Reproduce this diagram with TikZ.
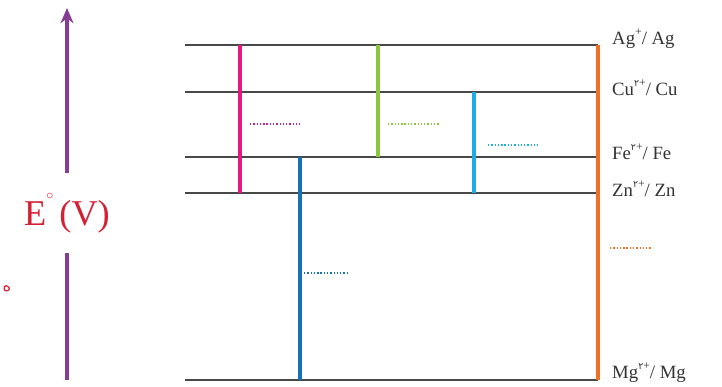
\documentclass[tikz,border=0pt]{standalone}
\usepackage{fontspec}
\setmainfont{Liberation Serif}
\newfontfamily\pdigit{DejaVu Sans}
\newfontfamily\arabicfont[Script=Arabic]{DejaVu Sans}
\TeXXeTstate=1
\usetikzlibrary{arrows.meta, positioning}
\definecolor{LevelGray}{RGB}{72, 72, 72}
\definecolor{PinkLine}{RGB}{228, 24, 128}
\definecolor{GreenLine}{RGB}{140, 198, 63}
\definecolor{CyanLine}{RGB}{30, 172, 228}
\definecolor{BlueLine}{RGB}{22, 112, 186}
\definecolor{OrangeLine}{RGB}{240, 112, 40}
\definecolor{AxisPurple}{RGB}{132, 60, 148}
\definecolor{LabelRed}{RGB}{212, 32, 52}
\newcommand{\supsize}{\fontsize{10pt}{10pt}\selectfont}
\newcommand{\two}{\raisebox{1.05ex}{\supsize{\pdigit\fontsize{8pt}{8pt}\selectfont ۲}+}}
\newcommand{\one}{\raisebox{1.05ex}{\supsize +}}
\tikzset{
  level/.style={line width=2.4pt, color=LevelGray},
  cell/.style={line width=4pt},
  blank/.style={line width=1.6pt, dash pattern=on 1.2pt off 1.6pt},
  couple/.style={anchor=west, inner sep=0pt, font=\fontsize{16pt}{18pt}\selectfont, text=black!80},
}

\begin{document}
\begin{tikzpicture}[x=0.03cm, y=-0.03cm]
  \useasboundingbox (0,0) rectangle (722,386);
  % energy levels
  \coordinate (agL) at (185,45);  \coordinate (agR) at (598,45);
  \coordinate (cuL) at (185,92);  \coordinate (cuR) at (598,92);
  \coordinate (feL) at (185,157); \coordinate (feR) at (598,157);
  \coordinate (znL) at (185,193); \coordinate (znR) at (598,193);
  \coordinate (mgL) at (185,380); \coordinate (mgR) at (598,380);
  \foreach \m in {ag,cu,fe,zn,mg} \draw[level] (\m L) -- (\m R);

  \node[couple] (ag) at (612,39) {Ag\one/ Ag};
  \node[couple] (cu) at (612,88) {Cu\two/ Cu};
  \node[couple] (fe) at (612,152) {Fe\two/ Fe};
  \node[couple] (zn) at (612,189) {Zn\two/ Zn};
  \node[couple] (mg) at (612,373) {Mg\two/ Mg};

  % cell potentials
  \draw[cell, PinkLine] (240,45) -- (240,193);
  \draw[cell, GreenLine] (378,45) -- (378,157);
  \draw[cell, CyanLine] (474,92) -- (474,193);
  \draw[cell, BlueLine] (300,157) -- (300,380);
  \draw[cell, OrangeLine] (598,45) -- (598,380);

  % blanks
  \coordinate (b1) at (250,124); \coordinate (b1e) at (300,124);
  \coordinate (b2) at (388,124); \coordinate (b2e) at (440,124);
  \coordinate (b3) at (488,145); \coordinate (b3e) at (538,145);
  \coordinate (b4) at (304,273); \coordinate (b4e) at (347,273);
  \coordinate (b5) at (610,248); \coordinate (b5e) at (652,248);
  \draw[blank, PinkLine!60!AxisPurple] (b1) -- (b1e);
  \draw[blank, GreenLine] (b2) -- (b2e);
  \draw[blank, CyanLine] (b3) -- (b3e);
  \draw[blank, BlueLine] (b4) -- (b4e);
  \draw[blank, OrangeLine] (b5) -- (b5e);

  % potential axis
  \node[text=LabelRed, font=\fontsize{31pt}{33pt}\selectfont, minimum height=2.4cm,
        inner sep=0pt] (axis) at (67,213) {E\raisebox{1.55ex}{\fontsize{12pt}{12pt}\selectfont$\circ$}\,(V)};
  \coordinate (axisB) at (67,380);
  \coordinate (axisT) at (67,8);
  \draw[line width=3pt, AxisPurple] (axisB) -- (axis.south);
  \draw[line width=3pt, AxisPurple, -{Stealth[length=13pt, width=11pt]}] (axis.north) -- (axisT);

  \node[text=LabelRed, font=\arabicfont\fontsize{14pt}{16pt}\selectfont, inner sep=0pt] (cut) at (7,289) {\beginR ه\endR};
\end{tikzpicture}
\end{document}
